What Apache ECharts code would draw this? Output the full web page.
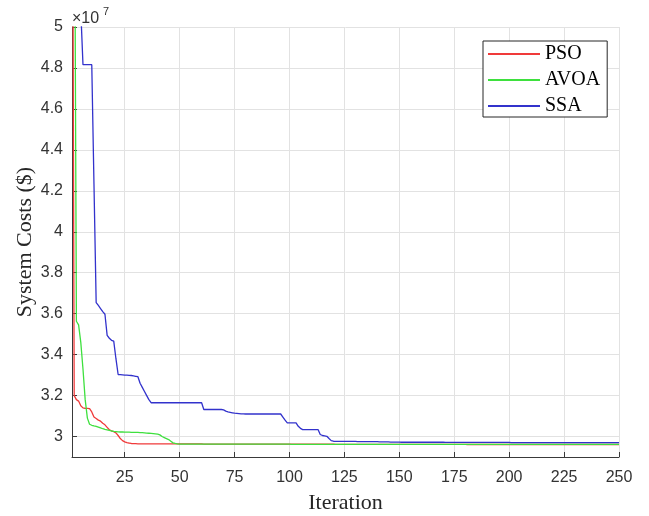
<!DOCTYPE html>
<html>
<head>
<meta charset="utf-8">
<title>System Costs vs Iteration</title>
<script src="https://cdn.jsdelivr.net/npm/echarts@6/dist/echarts.min.js"></script>
<style>
  html, body { margin: 0; padding: 0; background: #fff; }
  #chart { width: 649px; height: 516px; }
</style>
</head>
<body>
<div id="chart"></div>
<script>
// Best system cost per iteration (units of 1e7 $)
const seriesNames = ['PSO', 'AVOA', 'SSA'];

const pso = [
  6.80, 3.200, 3.180, 3.173, 3.150, 3.140, 3.137, 3.137, 3.136, 3.120,
  3.095, 3.088, 3.080, 3.075, 3.065, 3.057, 3.045, 3.033, 3.028, 3.024,
  3.018, 3.005, 2.990, 2.980, 2.974, 2.970, 2.968, 2.966, 2.965, 2.965,
  2.964, 2.964, 2.964, 2.964, 2.964, 2.964, 2.964, 2.964, 2.964, 2.964,
  2.964, 2.964, 2.964, 2.964, 2.964, 2.964, 2.964, 2.964, 2.964, 2.964,
  2.964, 2.964, 2.964, 2.964, 2.964, 2.964, 2.964, 2.964, 2.964, 2.964,
  2.963, 2.963, 2.963, 2.963, 2.963, 2.963, 2.963, 2.963, 2.963, 2.963,
  2.963, 2.963, 2.963, 2.963, 2.963, 2.963, 2.963, 2.963, 2.963, 2.963,
  2.963, 2.963, 2.963, 2.963, 2.963, 2.963, 2.963, 2.963, 2.963, 2.963,
  2.963, 2.963, 2.963, 2.963, 2.963, 2.963, 2.963, 2.963, 2.963, 2.963,
  2.963, 2.963, 2.963, 2.963, 2.963, 2.963, 2.963, 2.963, 2.963, 2.963,
  2.963, 2.963, 2.963, 2.963, 2.963, 2.963, 2.963, 2.963, 2.963, 2.963,
  2.962, 2.962, 2.962, 2.962, 2.962, 2.962, 2.962, 2.962, 2.962, 2.962,
  2.962, 2.962, 2.962, 2.962, 2.962, 2.962, 2.962, 2.962, 2.962, 2.962,
  2.962, 2.962, 2.962, 2.962, 2.962, 2.962, 2.962, 2.962, 2.962, 2.962,
  2.962, 2.962, 2.962, 2.962, 2.962, 2.962, 2.962, 2.962, 2.962, 2.962,
  2.962, 2.962, 2.962, 2.962, 2.962, 2.962, 2.962, 2.962, 2.962, 2.962,
  2.962, 2.962, 2.962, 2.962, 2.962, 2.962, 2.962, 2.962, 2.962, 2.962,
  2.961, 2.961, 2.961, 2.961, 2.961, 2.961, 2.961, 2.961, 2.961, 2.961,
  2.961, 2.961, 2.961, 2.961, 2.961, 2.961, 2.961, 2.961, 2.961, 2.961,
  2.961, 2.961, 2.961, 2.961, 2.961, 2.961, 2.961, 2.961, 2.961, 2.961,
  2.961, 2.961, 2.961, 2.961, 2.961, 2.961, 2.961, 2.961, 2.961, 2.961,
  2.961, 2.961, 2.961, 2.961, 2.961, 2.961, 2.961, 2.961, 2.961, 2.961,
  2.961, 2.961, 2.961, 2.961, 2.961, 2.961, 2.961, 2.961, 2.961, 2.961,
  2.961, 2.961, 2.961, 2.961, 2.961, 2.961, 2.961, 2.961, 2.961, 2.961
];

const avoa = [
  7.10, 6.20, 3.563, 3.545, 3.460, 3.330, 3.180, 3.090, 3.060, 3.055,
  3.052, 3.050, 3.046, 3.042, 3.038, 3.035, 3.033, 3.030, 3.027, 3.025,
  3.024, 3.023, 3.022, 3.022, 3.021, 3.021, 3.021, 3.020, 3.020, 3.020,
  3.020, 3.019, 3.019, 3.018, 3.017, 3.016, 3.015, 3.014, 3.013, 3.012,
  3.008, 3.000, 2.995, 2.990, 2.985, 2.977, 2.969, 2.966, 2.964, 2.963,
  2.963, 2.963, 2.963, 2.963, 2.963, 2.963, 2.963, 2.963, 2.963, 2.963,
  2.963, 2.963, 2.963, 2.963, 2.963, 2.963, 2.963, 2.963, 2.963, 2.963,
  2.963, 2.963, 2.963, 2.963, 2.963, 2.963, 2.963, 2.963, 2.963, 2.963,
  2.963, 2.963, 2.963, 2.963, 2.963, 2.963, 2.963, 2.963, 2.963, 2.963,
  2.963, 2.963, 2.963, 2.963, 2.963, 2.963, 2.963, 2.963, 2.963, 2.963,
  2.962, 2.962, 2.962, 2.962, 2.962, 2.962, 2.962, 2.962, 2.962, 2.962,
  2.962, 2.962, 2.962, 2.962, 2.962, 2.962, 2.962, 2.962, 2.962, 2.962,
  2.962, 2.962, 2.962, 2.962, 2.962, 2.962, 2.962, 2.962, 2.962, 2.962,
  2.962, 2.962, 2.962, 2.962, 2.962, 2.962, 2.962, 2.962, 2.962, 2.962,
  2.962, 2.962, 2.962, 2.962, 2.962, 2.962, 2.962, 2.962, 2.962, 2.962,
  2.962, 2.962, 2.962, 2.962, 2.962, 2.962, 2.962, 2.962, 2.962, 2.962,
  2.962, 2.962, 2.962, 2.962, 2.962, 2.962, 2.962, 2.962, 2.962, 2.962,
  2.962, 2.962, 2.962, 2.962, 2.962, 2.962, 2.962, 2.962, 2.962, 2.962,
  2.962, 2.962, 2.962, 2.962, 2.962, 2.962, 2.962, 2.962, 2.962, 2.962,
  2.962, 2.962, 2.962, 2.962, 2.962, 2.962, 2.962, 2.962, 2.962, 2.962,
  2.962, 2.962, 2.962, 2.962, 2.962, 2.962, 2.962, 2.962, 2.962, 2.962,
  2.962, 2.962, 2.962, 2.962, 2.962, 2.962, 2.962, 2.962, 2.962, 2.962,
  2.962, 2.962, 2.962, 2.962, 2.962, 2.962, 2.962, 2.962, 2.962, 2.962,
  2.962, 2.962, 2.962, 2.962, 2.962, 2.962, 2.962, 2.962, 2.962, 2.962,
  2.962, 2.962, 2.962, 2.962, 2.962, 2.962, 2.962, 2.962, 2.962, 2.962
];

const ssa = [
  6.20, 5.90, 5.60, 5.30, 5.08, 4.816, 4.816, 4.816, 4.816, 4.816,
  4.235, 3.654, 3.640, 3.625, 3.610, 3.597, 3.494, 3.480, 3.470, 3.466,
  3.380, 3.303, 3.302, 3.301, 3.300, 3.300, 3.299, 3.298, 3.296, 3.294,
  3.292, 3.260, 3.240, 3.220, 3.200, 3.180, 3.165, 3.165, 3.165, 3.165,
  3.165, 3.165, 3.165, 3.165, 3.165, 3.165, 3.165, 3.165, 3.165, 3.165,
  3.165, 3.165, 3.165, 3.165, 3.165, 3.165, 3.165, 3.165, 3.165, 3.165,
  3.132, 3.132, 3.132, 3.132, 3.132, 3.132, 3.132, 3.132, 3.132, 3.130,
  3.124, 3.120, 3.118, 3.116, 3.114, 3.113, 3.112, 3.111, 3.111, 3.110,
  3.110, 3.110, 3.110, 3.110, 3.110, 3.110, 3.110, 3.110, 3.110, 3.110,
  3.110, 3.110, 3.110, 3.110, 3.110, 3.110, 3.095, 3.080, 3.067, 3.067,
  3.067, 3.067, 3.067, 3.050, 3.040, 3.034, 3.034, 3.034, 3.034, 3.034,
  3.034, 3.034, 3.034, 3.010, 3.005, 3.003, 3.001, 2.990, 2.980, 2.977,
  2.976, 2.976, 2.976, 2.976, 2.976, 2.976, 2.976, 2.976, 2.976, 2.976,
  2.975, 2.975, 2.975, 2.975, 2.975, 2.975, 2.975, 2.975, 2.975, 2.975,
  2.974, 2.974, 2.974, 2.974, 2.974, 2.973, 2.973, 2.973, 2.973, 2.973,
  2.972, 2.972, 2.972, 2.972, 2.972, 2.972, 2.972, 2.972, 2.972, 2.972,
  2.972, 2.972, 2.972, 2.972, 2.972, 2.972, 2.972, 2.972, 2.972, 2.972,
  2.971, 2.971, 2.971, 2.971, 2.971, 2.971, 2.971, 2.971, 2.971, 2.971,
  2.971, 2.971, 2.971, 2.971, 2.971, 2.971, 2.971, 2.971, 2.971, 2.971,
  2.971, 2.971, 2.971, 2.971, 2.971, 2.971, 2.971, 2.971, 2.971, 2.971,
  2.970, 2.970, 2.970, 2.970, 2.970, 2.970, 2.970, 2.970, 2.970, 2.970,
  2.970, 2.970, 2.970, 2.970, 2.970, 2.970, 2.970, 2.970, 2.970, 2.970,
  2.970, 2.970, 2.970, 2.970, 2.970, 2.970, 2.970, 2.970, 2.970, 2.970,
  2.970, 2.970, 2.970, 2.970, 2.970, 2.970, 2.970, 2.970, 2.970, 2.970,
  2.970, 2.970, 2.970, 2.970, 2.970, 2.970, 2.970, 2.970, 2.970, 2.970
];

const xTicks = [25, 50, 75, 100, 125, 150, 175, 200, 225, 250];
const yTicks = [3, 3.2, 3.4, 3.6, 3.8, 4, 4.2, 4.4, 4.6, 4.8, 5];

const colors = ['#f03a3a', '#3ee03e', '#3232cc'];
const axisColor = '#3a3a3a';
const labelColor = '#333333';
const gridColor = '#e2e2e2';

// pair each value with its iteration number (1-based)
const toPoints = arr => arr.map((v, i) => [i + 1, v]);

const chart = echarts.init(document.getElementById('chart'), null, { renderer: 'canvas' });

chart.setOption({
  animation: false,
  backgroundColor: '#ffffff',
  grid: { left: 72, right: 30, top: 27, bottom: 59, containLabel: false, outerBoundsMode: 'none' },
  xAxis: {
    type: 'value',
    min: 1,
    max: 250,
    name: 'Iteration',
    nameLocation: 'middle',
    nameGap: 35,
    nameMoveOverlap: false,
    nameTextStyle: { fontFamily: 'Liberation Serif', fontSize: 22, color: '#262626' },
    axisLine: { show: true, lineStyle: { color: axisColor, width: 1 } },
    axisTick: { show: true, inside: true, length: 5, customValues: xTicks, lineStyle: { color: axisColor } },
    axisLabel: { customValues: xTicks, fontFamily: 'Liberation Sans', fontSize: 16, color: labelColor, margin: 13 },
    splitLine: { show: true, lineStyle: { color: gridColor, width: 1 } }
  },
  yAxis: {
    type: 'value',
    min: 2.9,
    max: 5,
    name: 'System Costs ($)',
    nameLocation: 'middle',
    nameGap: 36,
    nameMoveOverlap: false,
    nameTextStyle: { fontFamily: 'Liberation Serif', fontSize: 22, color: '#262626' },
    axisLine: { show: true, lineStyle: { color: axisColor, width: 1 } },
    axisTick: { show: true, inside: true, length: 5, customValues: yTicks, lineStyle: { color: axisColor } },
    axisLabel: { customValues: yTicks, fontFamily: 'Liberation Sans', fontSize: 16, color: labelColor, margin: 9,
      formatter: v => String(v) },
    splitLine: { show: true, lineStyle: { color: gridColor, width: 1 } }
  },
  legend: {
    orient: 'vertical',
    left: 483,
    top: 41,
    backgroundColor: '#ffffff',
    borderColor: '#262626',
    borderWidth: 1,
    borderRadius: 0,
    padding: [3, 7, 1, 5],
    itemWidth: 52,
    itemHeight: 2,
    itemGap: 6,
    icon: 'rect',
    textStyle: { fontFamily: 'Liberation Serif', fontSize: 20, color: '#000000', lineHeight: 20 },
    data: seriesNames
  },
  graphic: [
    { type: 'text', left: 72, top: 11, style: { text: '×10', fontFamily: 'Liberation Sans', fontSize: 16, fill: labelColor } },
    { type: 'text', left: 103, top: 6, style: { text: '7', fontFamily: 'Liberation Sans', fontSize: 11, fill: labelColor } }
  ],
  series: [pso, avoa, ssa].map((arr, k) => ({
    name: seriesNames[k],
    type: 'line',
    data: toPoints(arr),
    showSymbol: false,
    symbol: 'none',
    clip: true,
    color: colors[k],
    lineStyle: { color: colors[k], width: 1.3 }
  }))
});
</script>
</body>
</html>
